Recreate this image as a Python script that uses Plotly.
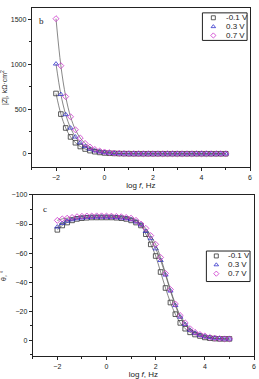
import plotly.graph_objects as go

logf = [round(-2 + 0.2 * i, 1) for i in range(36)]

z_m01 = [675, 445, 290, 190, 125, 83, 55, 37, 25, 17, 11, 8, 6, 4, 3, 2.5, 2, 2, 2, 2, 2, 2, 2, 2, 2, 2, 2, 2, 2, 2, 2, 2, 2, 2, 2, 2]
z_03 = [1005, 665, 440, 290, 190, 125, 83, 55, 36, 24, 16, 11, 7, 5, 3.5, 2.5, 2, 2, 2, 2, 2, 2, 2, 2, 2, 2, 2, 2, 2, 2, 2, 2, 2, 2, 2, 2]
z_07 = [1510, 985, 640, 415, 270, 178, 117, 77, 50, 33, 22, 15, 10, 7, 5, 3.5, 3, 2.5, 2, 2, 2, 2, 2, 2, 2, 2, 2, 2, 2, 2, 2, 2, 2, 2, 2, 2]

ph_m01 = [-76, -79, -81, -82.5, -83.5, -84, -84.3, -84.5, -84.5, -84.5, -84.5, -84.5, -84.3, -84, -83.5, -82.5, -81, -79, -73, -66, -58, -47, -36, -26, -18, -12, -8, -5.5, -4, -3, -2, -1.5, -1.2, -1, -1, -1]
ph_03 = [-78, -80.5, -82, -83, -83.7, -84.2, -84.5, -84.7, -84.8, -84.8, -84.8, -84.7, -84.5, -84.2, -83.8, -83, -81.5, -79.5, -75, -70, -63, -55, -45, -34, -24, -16, -11, -7, -5, -3.5, -2.5, -2, -1.5, -1.2, -1, -1]
ph_07 = [-82.5, -83.5, -84, -84.5, -85, -85.3, -85.5, -85.5, -85.6, -85.6, -85.5, -85.4, -85.2, -85, -84.5, -84, -82.5, -80, -77, -72, -66, -57, -46, -35, -25, -17, -12, -8, -5.5, -4, -3, -2, -1.5, -1.2, -1, -1]

legend_labels = ["-0.1 V", "0.3 V", "0.7 V"]
symbols = ["square-open", "triangle-up-open", "diamond-open"]
colors = ["#333333", "#3333cc", "#cc33cc"]
z_series = [z_m01, z_03, z_07]
ph_series = [ph_m01, ph_03, ph_07]

W, H = 259, 379
fig = go.Figure()
for z, ph, sym, col, name in zip(z_series, ph_series, symbols, colors, legend_labels):
    mk = dict(symbol=sym, color=col, size=4.6, line=dict(width=0.8, color=col))
    for xa, ya, yv in (("x", "y", z), ("x2", "y2", ph)):
        fig.add_trace(go.Scatter(x=logf, y=yv, mode="lines", showlegend=False,
                                 line=dict(color="#555555", width=0.7, shape="spline"),
                                 xaxis=xa, yaxis=ya, hoverinfo="skip"))
        fig.add_trace(go.Scatter(x=logf, y=yv, mode="markers", name=name, marker=mk,
                                 xaxis=xa, yaxis=ya, showlegend=False))

# manual legends (pixel layout on an invisible overlay axis)
legend_boxes = [
    dict(x0=204, x1=249, y0=9, y1=37, mx=215, tx=226, rows=[14, 23, 32]),
    dict(x0=208, x1=252, y0=251, y1=282, mx=218, tx=228, rows=[256, 265, 274]),
]
shapes = []
annotations = []
for lb in legend_boxes:
    shapes.append(dict(type="rect", xref="x3", yref="y3", x0=lb["x0"], x1=lb["x1"], y0=lb["y0"], y1=lb["y1"],
                       line=dict(color="#222", width=1), fillcolor="white", layer="below"))
    for i, name in enumerate(legend_labels):
        fig.add_trace(go.Scatter(x=[lb["mx"]], y=[lb["rows"][i]], mode="markers", showlegend=False,
                                 marker=dict(symbol=symbols[i], color=colors[i], size=4,
                                             line=dict(width=0.8, color=colors[i])),
                                 xaxis="x3", yaxis="y3", hoverinfo="skip"))
        annotations.append(dict(text=name, x=lb["tx"], y=lb["rows"][i], xref="x3", yref="y3",
                                xanchor="left", yanchor="middle", showarrow=False,
                                font=dict(family="Liberation Sans", size=8, color="#222")))

tf = dict(family="Liberation Sans", size=7, color="#222")
axcommon = dict(showline=True, linecolor="#222", linewidth=1, mirror=True, ticks="outside",
                ticklen=3, tickcolor="#222", showgrid=False, zeroline=False, tickfont=tf)
minor_x = dict(dtick=1, ticks="outside", ticklen=2, tickcolor="#222")

annotations += [
    dict(text="b", x=-2.6, y=1480, xref="x", yref="y", showarrow=False,
         font=dict(family="Liberation Serif", size=9, color="#222")),
    dict(text="c", x=-2.5, y=-90, xref="x2", yref="y2", showarrow=False,
         font=dict(family="Liberation Serif", size=9, color="#222")),
]

fig.update_layout(
    width=W, height=H, margin=dict(l=0, r=0, t=0, b=0),
    paper_bgcolor="white", plot_bgcolor="rgba(0,0,0,0)", showlegend=False,
    xaxis=dict(domain=[32/W, 252/W], range=[-3, 6], dtick=2, anchor="y", minor=minor_x,
               title=dict(text="log <i>f</i>, Hz", font=dict(family="Liberation Sans", size=8, color="#222"), standoff=2),
               **axcommon),
    yaxis=dict(domain=[1-166/H, 1-4/H], range=[-150, 1630], dtick=500, anchor="x",
               minor=dict(dtick=250, ticks="outside", ticklen=2, tickcolor="#222"),
               title=dict(text="|Z|, kΩ·cm<sup>2</sup>", font=tf, standoff=4),
               **axcommon),
    xaxis2=dict(domain=[33/W, 256/W], range=[-3, 6], dtick=2, anchor="y2", minor=minor_x,
                title=dict(text="log <i>f</i>, Hz", font=dict(family="Liberation Sans", size=8, color="#222"), standoff=4),
                **axcommon),
    yaxis2=dict(domain=[1-358/H, 1-194/H], range=[11, -100], dtick=20, anchor="x2",
                minor=dict(dtick=10, ticks="outside", ticklen=2, tickcolor="#222"),
                title=dict(text="θ, °", font=tf, standoff=4),
                **axcommon),
    xaxis3=dict(domain=[0, 1], range=[0, W], visible=False, anchor="y3", fixedrange=True),
    yaxis3=dict(domain=[0, 1], range=[H, 0], visible=False, anchor="x3", fixedrange=True),
    shapes=shapes,
    annotations=annotations,
)

fig.write_html("out.html")
